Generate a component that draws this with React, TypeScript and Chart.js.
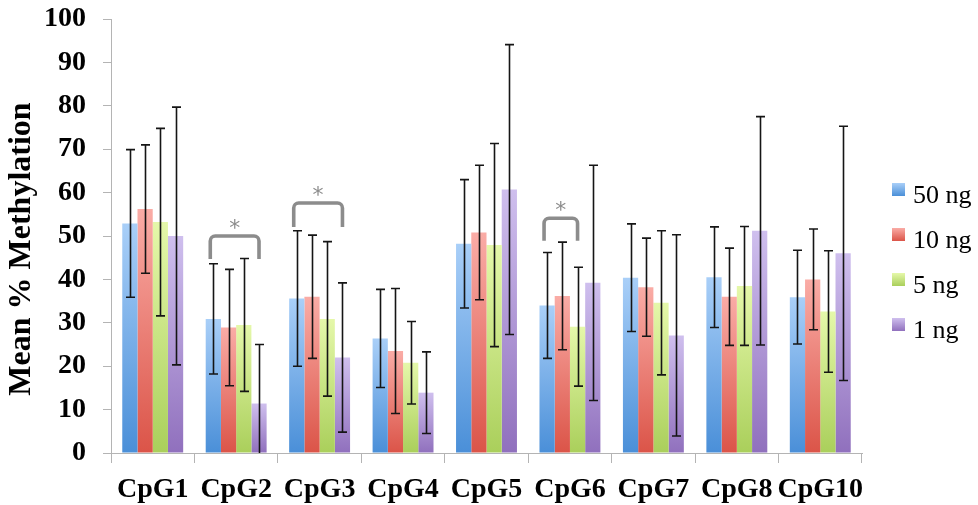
import { useEffect, useRef } from 'react';
import { Chart, registerables } from 'chart.js';

Chart.register(...registerables);

// CpG sites along the x axis
const categories = ['CpG1', 'CpG2', 'CpG3', 'CpG4', 'CpG5', 'CpG6', 'CpG7', 'CpG8', 'CpG10'];
const seriesNames = ['50 ng', '10 ng', '5 ng', '1 ng'];
const yTitle = 'Mean % Methylation';

// Mean % methylation per input amount
const mean50 = [52.9, 30.9, 35.6, 26.4, 48.2, 34.0, 40.4, 40.5, 35.9];
const mean10 = [56.2, 28.9, 36.0, 23.5, 50.8, 36.2, 38.2, 36.0, 40.0];
const mean5 = [53.2, 29.5, 30.9, 20.8, 47.9, 29.1, 34.6, 38.5, 32.6];
const mean1 = [50.0, 11.4, 22.0, 13.9, 60.7, 39.2, 27.1, 51.2, 46.0];

// Standard deviations (symmetric error bars)
const sd50 = [17.0, 12.7, 15.6, 11.3, 14.8, 12.2, 12.4, 11.6, 10.8];
const sd10 = [14.8, 13.4, 14.2, 14.4, 15.5, 12.4, 11.3, 11.2, 11.6];
const sd5 = [21.6, 15.3, 17.8, 9.5, 23.4, 13.7, 16.6, 13.7, 14.0];
const sd1 = [29.7, 13.6, 17.2, 9.4, 33.4, 27.1, 23.2, 26.3, 29.3];

// Significance brackets: category, first/last bar index, bracket level, leg drop
const sigCategories = ['CpG2', 'CpG3', 'CpG6'];
const sigFrom = [0, 0, 0];
const sigTo = [3, 3, 2];
const sigLevel = [50.0, 57.6, 54.1];
const sigDrop = [5.3, 5.5, 5.2];
const sigMark = ['*', '*', '*'];

const means = [mean50, mean10, mean5, mean1];
const sds = [sd50, sd10, sd5, sd1];

const palette = [
  { top: '#a9cff8', bottom: '#4a8fd8' },
  { top: '#faaca6', bottom: '#db5448' },
  { top: '#e5f8aa', bottom: '#aacf5b' },
  { top: '#cfbfee', bottom: '#9070bd' },
];

const SERIF = "'Liberation Serif', 'Times New Roman', serif";

function barFill(i: number) {
  return (ctx: any) => {
    const chart = ctx.chart;
    if (!chart.chartArea || ctx.type !== 'data') return palette[i].bottom;
    const y = chart.scales.y;
    const top = y.getPixelForValue(ctx.raw as number);
    const base = y.getPixelForValue(0);
    const g = chart.ctx.createLinearGradient(0, top, 0, base);
    g.addColorStop(0, palette[i].top);
    g.addColorStop(1, palette[i].bottom);
    return g;
  };
}

const errorBars = {
  id: 'errorBars',
  afterDatasetsDraw(chart: any) {
    const { ctx, chartArea, scales } = chart;
    const y = scales.y;
    ctx.save();
    ctx.beginPath();
    ctx.rect(chartArea.left, chartArea.top - 2, chartArea.right - chartArea.left, chartArea.bottom - chartArea.top + 2);
    ctx.clip();
    ctx.strokeStyle = '#151515';
    ctx.lineWidth = 1.6;
    means.forEach((series, i) => {
      const meta = chart.getDatasetMeta(i);
      meta.data.forEach((bar: any, j: number) => {
        const hi = y.getPixelForValue(series[j] + sds[i][j]);
        const lo = y.getPixelForValue(series[j] - sds[i][j]);
        const x = Math.round(bar.x) + 0.5;
        ctx.beginPath();
        ctx.moveTo(x, hi);
        ctx.lineTo(x, lo);
        ctx.moveTo(x - 4.5, hi);
        ctx.lineTo(x + 4.5, hi);
        ctx.moveTo(x - 4.5, lo);
        ctx.lineTo(x + 4.5, lo);
        ctx.stroke();
      });
    });
    ctx.restore();
  },
};

const brackets = {
  id: 'brackets',
  afterDatasetsDraw(chart: any) {
    const { ctx, scales } = chart;
    const y = scales.y;
    ctx.save();
    sigCategories.forEach((cat, k) => {
      const j = categories.indexOf(cat);
      const a = chart.getDatasetMeta(sigFrom[k]).data[j];
      const b = chart.getDatasetMeta(sigTo[k]).data[j];
      const left = a.x - a.width * 0.2;
      const right = b.x;
      const top = y.getPixelForValue(sigLevel[k]);
      const foot = y.getPixelForValue(sigLevel[k] - sigDrop[k]);
      const r = 5;
      ctx.strokeStyle = '#8c8c8c';
      ctx.lineWidth = 3.6;
      ctx.lineJoin = 'round';
      ctx.beginPath();
      ctx.moveTo(left, foot);
      ctx.lineTo(left, top + r);
      ctx.arcTo(left, top, left + r, top, r);
      ctx.lineTo(right - r, top);
      ctx.arcTo(right, top, right, top + r, r);
      ctx.lineTo(right, foot);
      ctx.stroke();

      ctx.fillStyle = '#8c8c8c';
      ctx.font = "22px 'DejaVu Sans', sans-serif";
      ctx.textAlign = 'center';
      ctx.textBaseline = 'alphabetic';
      const m = ctx.measureText(sigMark[k]);
      const cy = top - 12.5;
      ctx.fillText(sigMark[k], (left + right) / 2, cy + (m.actualBoundingBoxAscent - m.actualBoundingBoxDescent) / 2);
    });
    ctx.restore();
  },
};

// Vertical axis title and the series key at the right
const annotations = {
  id: 'annotations',
  afterDraw(chart: any) {
    const { ctx, chartArea } = chart;
    ctx.save();
    ctx.translate(22, chartArea.top + 230);
    ctx.rotate(-Math.PI / 2);
    ctx.fillStyle = '#000';
    ctx.font = `bold 32px ${SERIF}`;
    ctx.textAlign = 'center';
    ctx.textBaseline = 'middle';
    ctx.fillText(yTitle, 0, 0);
    ctx.restore();

    const x0 = chartArea.right + 30;
    const y0 = chartArea.top + 164;
    const step = 45;
    const size = 13;
    ctx.save();
    seriesNames.forEach((name, i) => {
      const top = y0 + i * step;
      const g = ctx.createLinearGradient(0, top, 0, top + size);
      g.addColorStop(0, palette[i].top);
      g.addColorStop(1, palette[i].bottom);
      ctx.fillStyle = g;
      ctx.fillRect(x0, top, size, size);
      ctx.fillStyle = '#000';
      ctx.font = `26px ${SERIF}`;
      ctx.textAlign = 'left';
      ctx.textBaseline = 'alphabetic';
      ctx.fillText(name, x0 + size + 8, top + 20);
    });
    ctx.restore();
  },
};

export default function App() {
  const canvasRef = useRef<HTMLCanvasElement | null>(null);

  useEffect(() => {
    if (!canvasRef.current) return;
    const chart = new Chart(canvasRef.current, {
      type: 'bar',
      data: {
        labels: categories,
        datasets: means.map((series, i) => ({
          label: seriesNames[i],
          data: series,
          backgroundColor: barFill(i),
          borderWidth: 0,
          categoryPercentage: 0.73,
          barPercentage: 1.0,
        })),
      },
      options: {
        responsive: false,
        animation: false,
        devicePixelRatio: 1,
        layout: { padding: { top: 19, right: 116, bottom: 0, left: 0 } },
        plugins: {
          legend: { display: false },
          tooltip: { enabled: false },
        },
        scales: {
          x: {
            grid: { drawOnChartArea: false, tickLength: 10, color: '#b4b4b4', offset: true },
            border: { color: '#b4b4b4' },
            ticks: {
              color: '#000',
              font: { family: SERIF, size: 28, weight: 'bold' },
              padding: 10,
              maxRotation: 0,
              minRotation: 0,
              autoSkip: false,
            },
            afterFit: (s: any) => {
              s.height = 52;
            },
          },
          y: {
            min: 0,
            max: 100,
            grid: { drawOnChartArea: false, tickLength: 8, color: '#b4b4b4' },
            border: { color: '#b4b4b4' },
            ticks: {
              stepSize: 10,
              color: '#000',
              font: { family: SERIF, size: 28, weight: 'bold' },
              padding: 17,
            },
            afterFit: (s: any) => {
              s.width = 111;
              s.paddingTop = 0;
              s.paddingBottom = 0;
            },
          },
        },
      },
      plugins: [errorBars, brackets, annotations],
    });
    return () => chart.destroy();
  }, []);

  return (
    <div style={{ position: 'absolute', left: 0, top: 0, width: 978, height: 505, background: '#fff' }}>
      <canvas ref={canvasRef} width={978} height={505} style={{ display: 'block', width: 978, height: 505 }} />
    </div>
  );
}
